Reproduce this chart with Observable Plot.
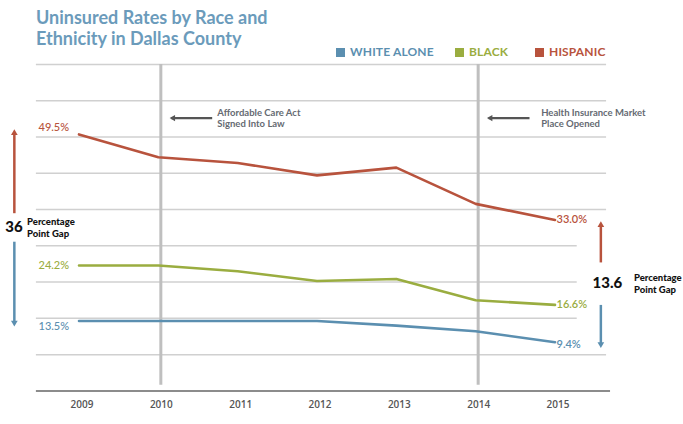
<!DOCTYPE html>
<html><head><meta charset="utf-8">
<script src="https://cdn.jsdelivr.net/npm/d3@7"></script>
<script src="https://cdn.jsdelivr.net/npm/@observablehq/plot@0.6"></script>
<style>
body{margin:0;background:#fff;font-family:Lato,sans-serif;}
#wrap{width:683px;height:424px;position:relative;overflow:hidden;background:#fff}
#header{position:relative;height:58px}
#title{position:absolute;left:36px;top:7px;font-size:18px;font-weight:700;color:#6b9bbb;line-height:21px;white-space:nowrap}
.item{position:absolute;top:45px;height:14px;display:flex;align-items:center;font-size:12px;font-weight:700;letter-spacing:0.15px;line-height:14px;white-space:nowrap}
.sw{width:9px;height:9px;margin-right:5px}
#chart svg{display:block}
</style></head><body>
<div id="wrap"><div id="header"><div id="title">Uninsured Rates by Race and<br>Ethnicity in Dallas County</div></div><div id="chart"></div></div>
<script>
const years = [2009, 2010, 2011, 2012, 2013, 2014, 2015];
const white = [13.5, 13.5, 13.5, 13.5, 12.6, 11.5, 9.4];
const black = [24.2, 24.2, 23.1, 21.2, 21.6, 17.5, 16.6];
const hispanic = [49.5, 45.1, 44.0, 41.6, 43.1, 36.1, 33.0];
const seriesNames = ["WHITE ALONE", "BLACK", "HISPANIC"];
const colors = ["#5b8fb0", "#9aad40", "#b8533d"];
const gridValues = [7, 14, 21, 28, 35, 42, 49, 56, 63];
const eventYears = [2010, 2014];
const eventTexts = ["Affordable Care Act\nSigned Into Law", "Health Insurance Market\nPlace Opened"];
const gapLabels = ["36", "13.6"];

// legend
const legendLeft = [336, 455, 535];
const header = document.getElementById("header");
seriesNames.forEach((n, i) => {
  const it = document.createElement("div");
  it.className = "item";
  it.style.left = legendLeft[i] + "px";
  it.style.color = colors[i];
  it.innerHTML = `<span class="sw" style="background:${colors[i]}"></span>${n}`;
  header.appendChild(it);
});

const seriesValues = [white, black, hispanic];
const data = [];
seriesNames.forEach((s, i) => years.forEach((y, j) => data.push({series: s, year: y, value: seriesValues[i][j]})));

const pxPerUnit = 326.4 / 63;
const firstDy = [6, 0, -7];
const lastDy = [2, 0, 0];
const firstLabels = seriesNames.map((s, i) => ({series: s, year: years[0], value: seriesValues[i][0], off: firstDy[i]}));
const lastLabels = seriesNames.map((s, i) => ({series: s, year: years[6], value: seriesValues[i][6], off: lastDy[i]}));

const eventTextDx = [59, 65.5];
const events = eventYears.map((y, i) => ({year: y, text: eventTexts[i], tdx: eventTextDx[i]}));

// gap annotations (positions in chart units)
const gaps = [
  {x: 2008.185, top: hispanic[0] + 1.16, topStart: 34.2, botStart: 28.7, bottom: white[0] - 1.2, mid: 31.6, label: gapLabels[0], labelX: 2008.18, textX: 2008.345},
  {x: 2015.578, top: 32.9, topStart: 24.7, botStart: 16.5, bottom: white[6] - 1.27, mid: 20.85, label: gapLabels[1], labelX: 2015.66, textX: 2015.995}
];

const xMin = 2008.463, xMax = 2015.65, xShort = 2015.28, xAxisMax = 2015.70;
const annY = 52.66;
const pxPerYear = 476 / 6;

const chart = Plot.plot({
  width: 683, height: 366,
  x: {domain: [2009, 2015], range: [78.5, 554.5], axis: null},
  y: {domain: [0, 63], range: [332.4, 6], axis: null},
  color: {domain: seriesNames, range: colors},
  style: {fontFamily: "Lato, sans-serif", background: "#fff"},
  marks: [
    Plot.ruleY(gridValues, {x1: xMin, x2: d => [14, 21, 28].includes(d) ? xShort : xMax, stroke: "#d0d0d0", strokeWidth: 1.5}),
    Plot.ruleY([0], {x1: xMin, x2: xAxisMax, stroke: "#8c8c8c", strokeWidth: 2}),
    Plot.ruleX(events, {x: "year", y1: 1.1, y2: 63, dx: 2.5, stroke: "#bfbfbf", strokeWidth: 3}),
    Plot.line(data, {x: "year", y: "value", z: "series", stroke: "series", strokeWidth: 2.6}),
    // event arrows
    Plot.ruleY(events, {x1: d => d.year + 0.685, x2: d => d.year + 0.17, y: annY, stroke: "#555", strokeWidth: 2.2}),
    Plot.dot(events, {x: d => d.year + 0.135, y: annY, dx: 4.2, symbol: "triangle2", rotate: -90, r: 3, fill: "#555"}),
    Plot.text(events, {x: d => d.year + d.tdx / pxPerYear, y: annY, text: "text", textAnchor: "start", lineHeight: 1.15, fontSize: 9.5, fontWeight: 700, fill: "#656a72"}),
    // value labels
    Plot.text(firstLabels, {x: "year", y: d => d.value - d.off / pxPerUnit, dx: -40.5, text: d => d.value.toFixed(1) + "%", textAnchor: "start", fill: "series", fontSize: 11, fontWeight: 500}),
    Plot.text(lastLabels, {x: "year", y: d => d.value - d.off / pxPerUnit, dx: 1.5, text: d => d.value.toFixed(1) + "%", textAnchor: "start", fill: "series", fontSize: 11, fontWeight: 600}),
    // gap arrows
    Plot.ruleX(gaps, {x: "x", y1: "topStart", y2: d => d.top - 1, stroke: colors[2], strokeWidth: 2.5}),
    Plot.dot(gaps, {x: "x", y: "top", dy: 4.6, symbol: "triangle2", r: 3.2, fill: colors[2]}),
    Plot.ruleX(gaps, {x: "x", y1: "botStart", y2: d => d.bottom + 1, stroke: colors[0], strokeWidth: 2.5}),
    Plot.dot(gaps, {x: "x", y: "bottom", dy: -4.6, symbol: "triangle2", rotate: 180, r: 3.2, fill: colors[0]}),
    Plot.text(gaps, {x: "labelX", y: "mid", text: "label", fontSize: 15, fontWeight: 900, fill: "#111"}),
    Plot.text(gaps, {x: "textX", y: "mid", text: d => "Percentage\nPoint Gap", textAnchor: "start", lineHeight: 1.25, fontSize: 9.5, fontWeight: 900, fill: "#111"}),
    // x tick labels
    Plot.text(years, {x: d => d, y: -2.63, dx: 3, text: d => String(d), fontSize: 10, fontWeight: 600, fill: "#555", fontFamily: "Open Sans, sans-serif"})
  ]
});
document.getElementById("chart").appendChild(chart);
</script>
</body></html>
